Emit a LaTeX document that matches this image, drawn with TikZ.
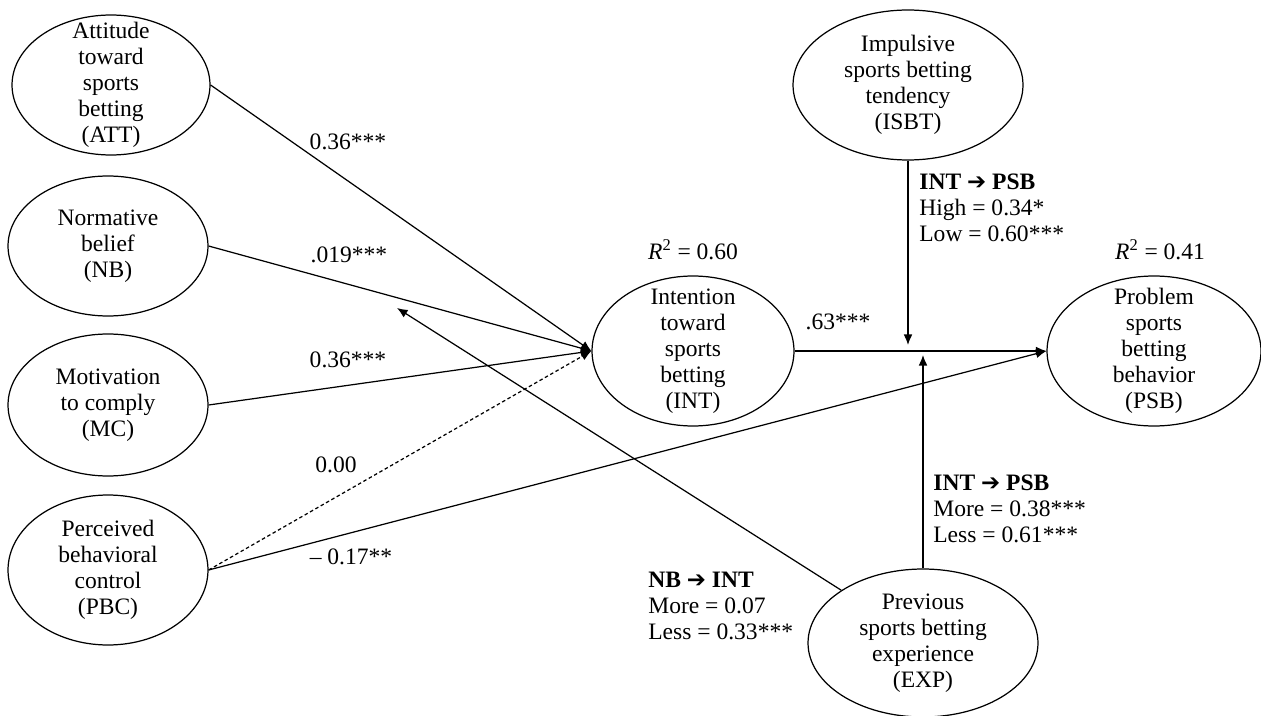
\documentclass[tikz,border=0pt]{standalone}
\usepackage{fontspec}
\setmainfont{Liberation Serif}
\newfontfamily\symbfont{DejaVu Sans}
\usetikzlibrary{shapes.geometric,arrows.meta}

\newcommand{\heavyarr}{{\symbfont\fontsize{13}{13}\selectfont ➔}}

\begin{document}
\begin{tikzpicture}[x=0.02cm, y=-0.02cm,
    every node/.style={font=\fontsize{13.4}{14.8}\selectfont},
    latent/.style={draw, ellipse, line width=0.7pt, inner sep=0pt},
    txt/.style={align=center, inner sep=0pt},
    coef/.style={inner sep=0pt},
    effect/.style={line width=0.7pt, -{Latex[length=6pt, width=5pt]}}
  ]
\useasboundingbox (0,0) rectangle (1261,716);

% Theory of planned behavior constructs
\node[latent, minimum width=3.96cm, minimum height=2.8cm,
    label={[txt]center:{Attitude\\toward\\sports\\betting\\(ATT)}}] (att) at (111,85) {};
\node[latent, minimum width=4cm, minimum height=2.8cm,
    label={[txt]center:{Normative\\belief\\(NB)}}] (nb) at (108,246) {};
\node[latent, minimum width=4cm, minimum height=2.84cm,
    label={[txt]center:{Motivation\\to comply\\(MC)}}] (mc) at (108,405) {};
\node[latent, minimum width=4cm, minimum height=3cm,
    label={[txt]center:{Perceived\\behavioral\\control\\(PBC)}}] (pbc) at (108,570) {};

% Intention and behavior
\node[latent, minimum width=4.04cm, minimum height=3cm,
    label={[txt]center:{Intention\\toward\\sports\\betting\\(INT)}}] (int) at (693,351) {};
\node[latent, minimum width=4.28cm, minimum height=3cm,
    label={[txt]center:{Problem\\sports\\betting\\behavior\\(PSB)}}] (psb) at (1154,351) {};

% Moderators
\node[latent, minimum width=4.6cm, minimum height=3cm,
    label={[txt]center:{Impulsive\\sports betting\\tendency\\(ISBT)}}] (isbt) at (908,85) {};
\node[latent, minimum width=4.6cm, minimum height=2.96cm,
    label={[txt]center:{Previous\\sports betting\\experience\\(EXP)}}] (exp) at (923,643) {};

% Ends of the moderating arrows
\coordinate (isbtend) at (908,345);
\coordinate (expend) at (923,355);
\coordinate (nbend) at (397,308);

% Paths
\draw[effect] (att.east) -- (int.west);
\draw[effect] (nb.east) -- (int.west);
\draw[effect] (mc.east) -- (int.west);
\draw[effect, dash pattern=on 2pt off 1.5pt] (pbc.east) -- (int.west);
\draw[effect] (pbc.east) -- (psb.west);
\draw[effect] (int.east) -- (psb.west);
\draw[effect] (isbt.south) -- (isbtend);
\draw[effect] (exp.north) -- (expend);
\draw[effect] (exp.north west) -- (nbend);

% Coefficients
\node[coef] (c-att) at (348,142) {0.36***};
\node[coef] (c-nb) at (349,255) {.019***};
\node[coef] (c-mc) at (348,360) {0.36***};
\node[coef] (c-pbc1) at (336,465) {0.00};
\node[coef] (c-pbc2) at (351,557) {– 0.17**};
\node[coef] (c-int) at (838,322) {.63***};
\node[coef] (r-int) at (693,250) {\textit{R}\textsuperscript{2} = 0.60};
\node[coef] (r-psb) at (1160,250) {\textit{R}\textsuperscript{2} = 0.41};

% Moderation results
\node[coef, align=left, anchor=west] (m-isbt) at (919,208)
    {\textbf{INT \heavyarr\ PSB}\\High = 0.34*\\Low = 0.60***};
\node[coef, align=left, anchor=west] (m-exp) at (933,509)
    {\textbf{INT \heavyarr\ PSB}\\More = 0.38***\\Less = 0.61***};
\node[coef, align=left, anchor=west] (m-nb) at (648,606)
    {\textbf{NB \heavyarr\ INT}\\More = 0.07\\Less = 0.33***};

\end{tikzpicture}
\end{document}
